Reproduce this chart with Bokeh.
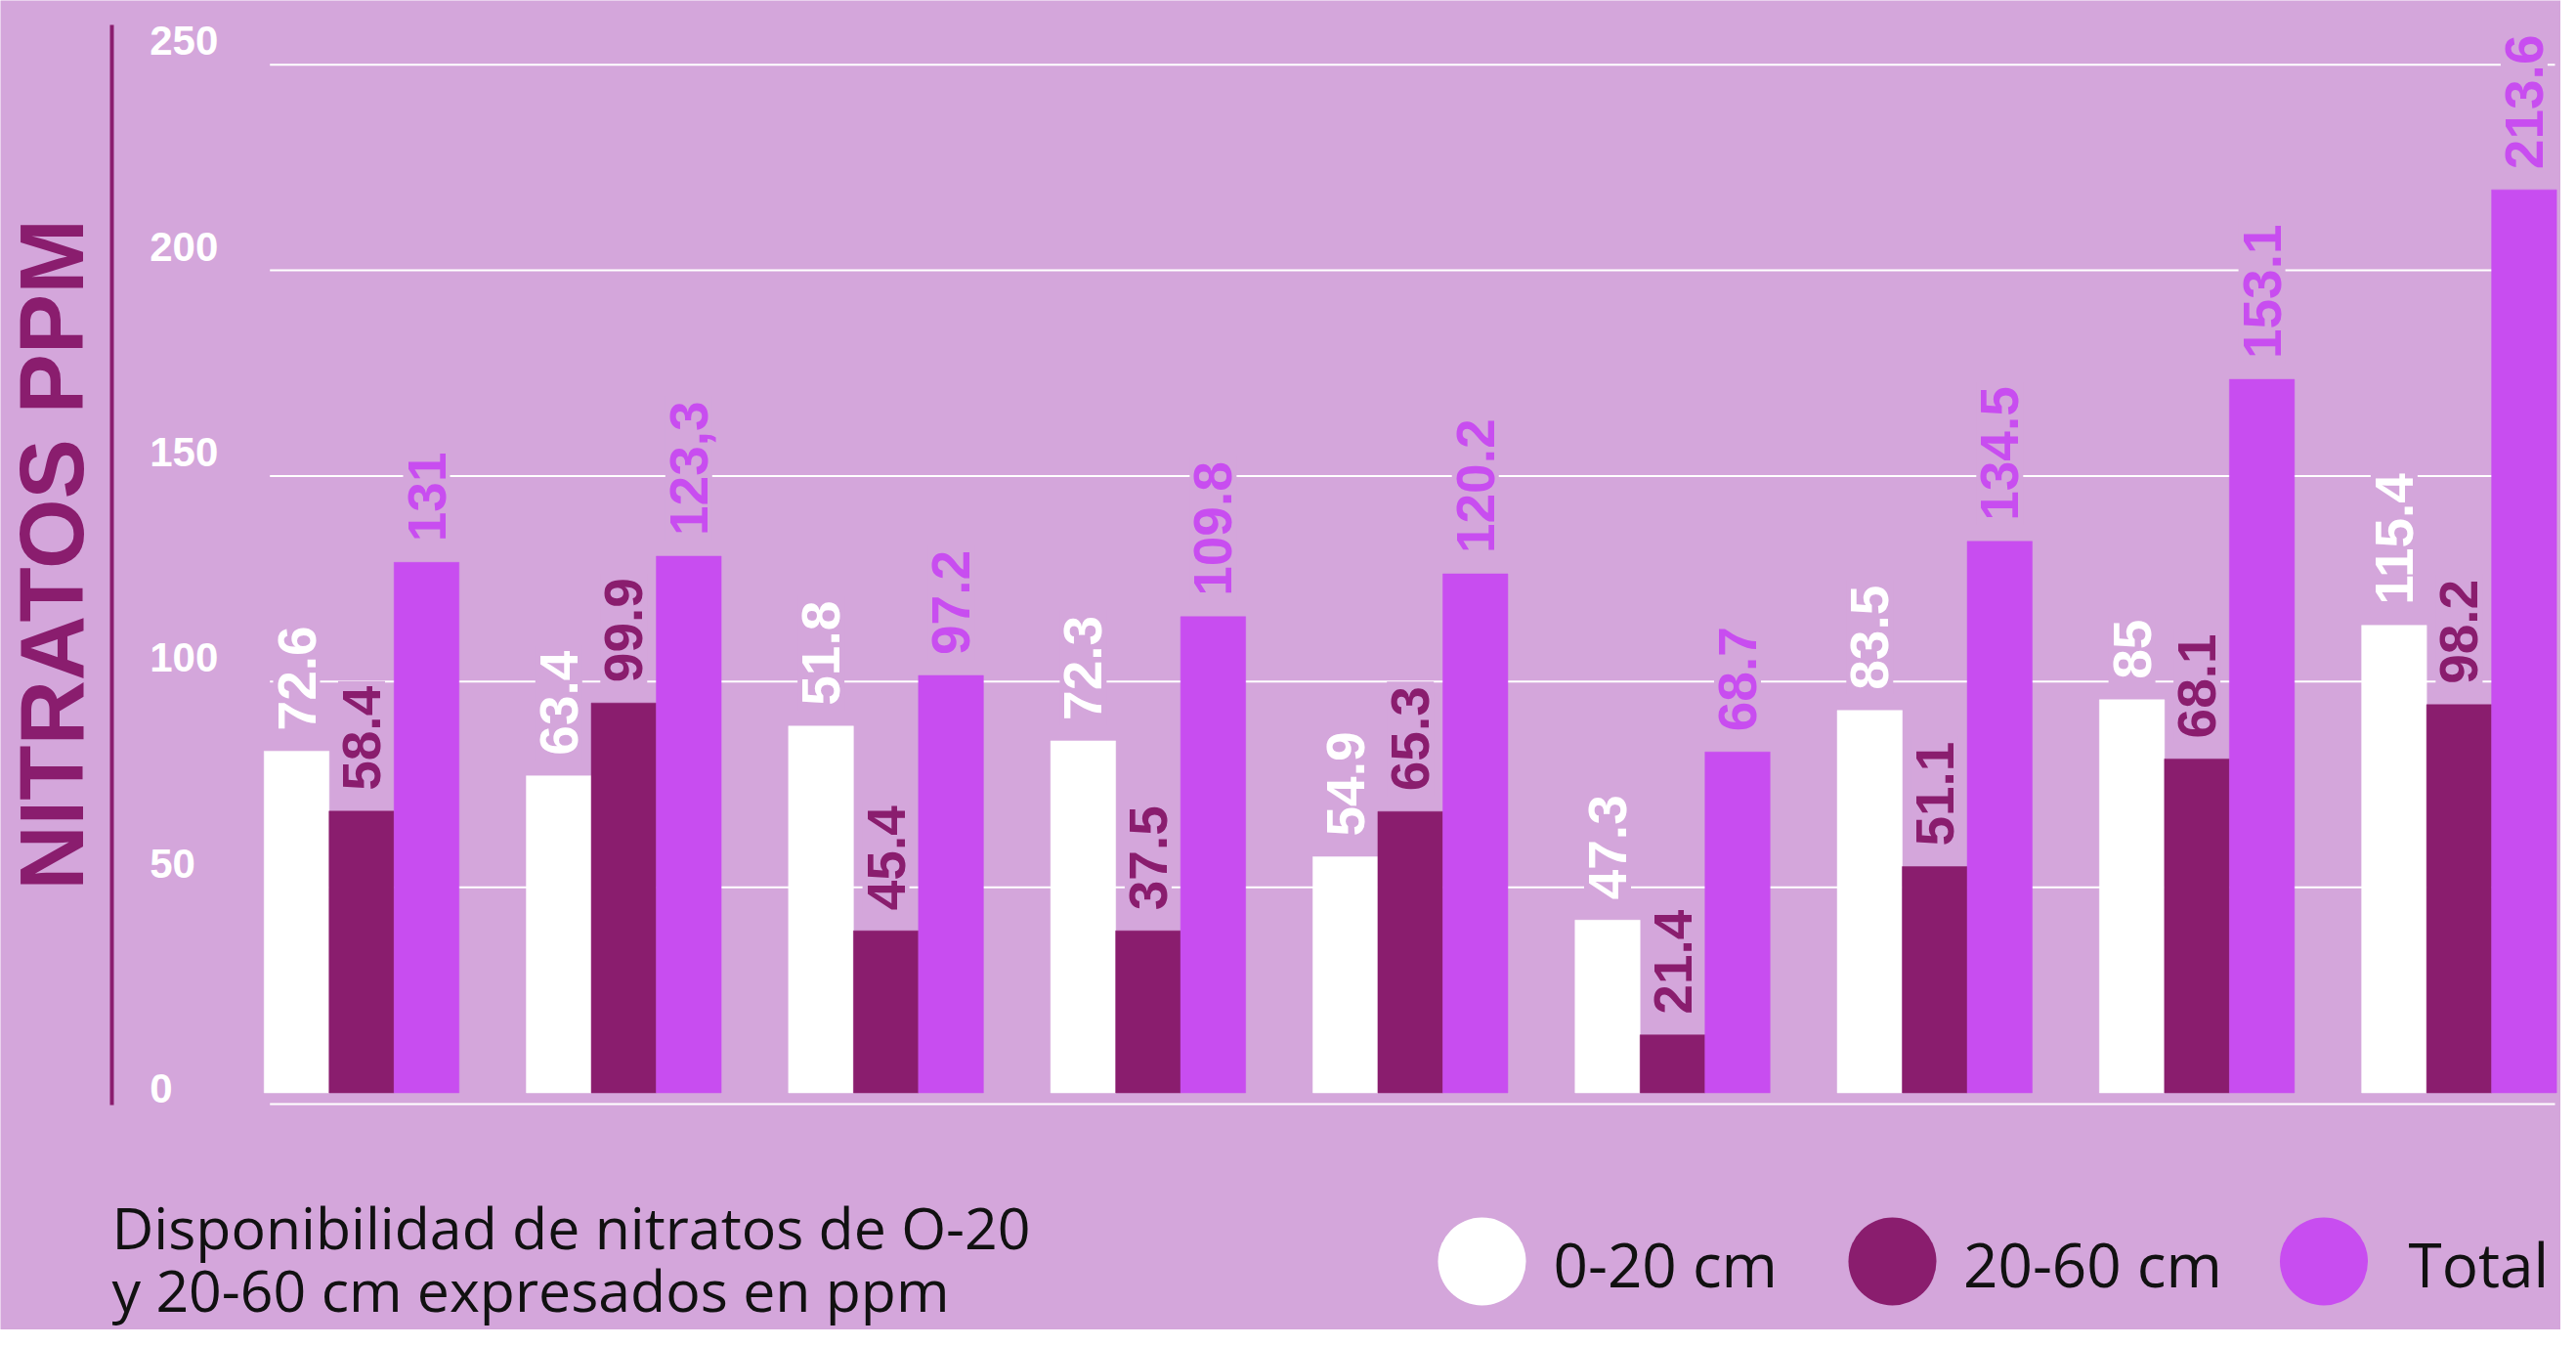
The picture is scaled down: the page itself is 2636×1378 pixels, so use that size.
import math
from bokeh.plotting import figure
from bokeh.models import Range1d, ColumnDataSource
from bokeh.core.properties import value
from bokeh.embed import file_html
from bokeh.resources import INLINE

# ---------------- data ----------------
series = ["0-20 cm", "20-60 cm", "Total"]
series_colors = ["#FFFFFF", "#8A1D6E", "#C84DF0"]
groups = [0, 1, 2, 3, 4, 5, 6, 7, 8]
bar_0_20 = [83.1, 77.1, 89.2, 85.6, 57.4, 42.0, 93.0, 95.6, 113.7]
bar_20_60 = [68.5, 94.8, 39.4, 39.4, 68.4, 14.1, 55.0, 81.2, 94.4]
bar_total = [129.0, 130.5, 101.5, 115.8, 126.2, 82.9, 134.1, 173.5, 219.6]
lab_0_20 = ["72.6", "63.4", "51.8", "72.3", "54.9", "47.3", "83.5", "85", "115.4"]
lab_20_60 = ["58.4", "99.9", "45.4", "37.5", "65.3", "21.4", "51.1", "68.1", "98.2"]
lab_total = ["131", "123,3", "97.2", "109.8", "120.2", "68.7", "134.5", "153.1", "213.6"]
y_ticks = [0, 50, 100, 150, 200, 250]
y_tick_labels = ["0", "50", "100", "150", "200", "250"]
y_title = "NITRATOS PPM"
caption = ["Disponibilidad de nitratos de O-20", "y 20-60 cm expresados  en ppm"]

# ---------------- style / layout ----------------
BG = "#D4A6DB"
DARK = "#8A1D6E"
W, H = 2620, 1360
GS = 268.3          # px between group centres
GX0 = 369.5         # px of first group centre
Y0 = 1117.5         # px of value 0
PPU = 4.207         # px per ppm


def X(px):
    return (px - GX0) / GS


def Y(py):
    return (Y0 - py) / PPU


p = figure(width=W, height=H,
           x_range=Range1d(X(0), X(W)), y_range=Range1d(Y(H), Y(0)),
           output_backend="svg", toolbar_location=None,
           x_axis_location=None, y_axis_location=None, min_border=0)
p.background_fill_color = BG
p.border_fill_color = BG
p.outline_line_color = None
p.grid.visible = False

bw = 66.5 / GS

# grid lines (non-zero ticks)
gt = [t for t in y_ticks if t > 0]
p.segment(x0=[X(275.7)] * len(gt), x1=[X(2614)] * len(gt), y0=gt, y1=gt,
          line_color="#FFFFFF", line_width=2)
# baseline under the bars
p.segment(x0=[X(275.7)], x1=[X(2614)], y0=[Y(1129)], y1=[Y(1129)],
          line_color="#FFFFFF", line_width=2)

# tick labels (sit just above their grid line)
ty = [t + (24.4 / PPU if t > 0 else 4.5 / PPU) for t in y_ticks]
p.text(x=[X(152.7)] * len(y_ticks), y=ty, text=y_tick_labels,
       text_font=value("Liberation Sans"), text_font_style="bold",
       text_font_size="42px", text_color="#FFFFFF",
       text_align="left", text_baseline="middle")

# vertical axis line and title
p.segment(x0=[X(114)], x1=[X(114)], y0=[Y(25)], y1=[Y(1130)],
          line_color=DARK, line_width=4)
p.text(x=[X(52)], y=[Y(567)], text=[y_title], angle=math.pi / 2,
       text_font=value("Liberation Sans"), text_font_style="bold",
       text_font_size="92px", text_color=DARK,
       text_align="center", text_baseline="middle")

# bars
all_vals = [bar_0_20, bar_20_60, bar_total]
all_labs = [lab_0_20, lab_20_60, lab_total]
offsets = [-bw, 0.0, bw]
for vals, col, off in zip(all_vals, series_colors, offsets):
    src = ColumnDataSource(dict(x=[g + off for g in groups], top=vals))
    p.vbar(x="x", top="top", bottom=0, width=bw, source=src,
           fill_color=col, line_color=col, line_width=0.5)

# value labels
gap = 16 / PPU
for vals, labs, col, off in zip(all_vals, all_labs, series_colors, offsets):
    src = ColumnDataSource(dict(x=[g + off for g in groups],
                                y=[v + gap for v in vals], t=labs))
    p.text(x="x", y="y", text="t", source=src, angle=math.pi / 2,
           text_font=value("Liberation Sans"), text_font_style="bold",
           text_font_size="55px", text_color=col,
           text_align="left", text_baseline="middle",
           background_fill_color=BG, padding=5)

# caption
p.text(x=[X(114)] * 2, y=[Y(1254), Y(1318)], text=caption,
       text_font=value("Open Sans"), text_font_size="59px",
       text_color="#111111", text_align="left", text_baseline="middle")

# legend
leg_cx = [X(1516), X(1936), X(2377.5)]
leg_tx = [X(1589), X(2008.5), X(2464)]
p.scatter(x=leg_cx, y=[Y(1290)] * 3, size=90, marker="circle",
          fill_color=series_colors, line_color=None)
p.text(x=leg_tx, y=[Y(1292)] * 3, text=series,
       text_font=value("Open Sans"), text_font_size="62px",
       text_color="#111111", text_align="left", text_baseline="middle")

open("out.html", "w").write(file_html(p, INLINE))
